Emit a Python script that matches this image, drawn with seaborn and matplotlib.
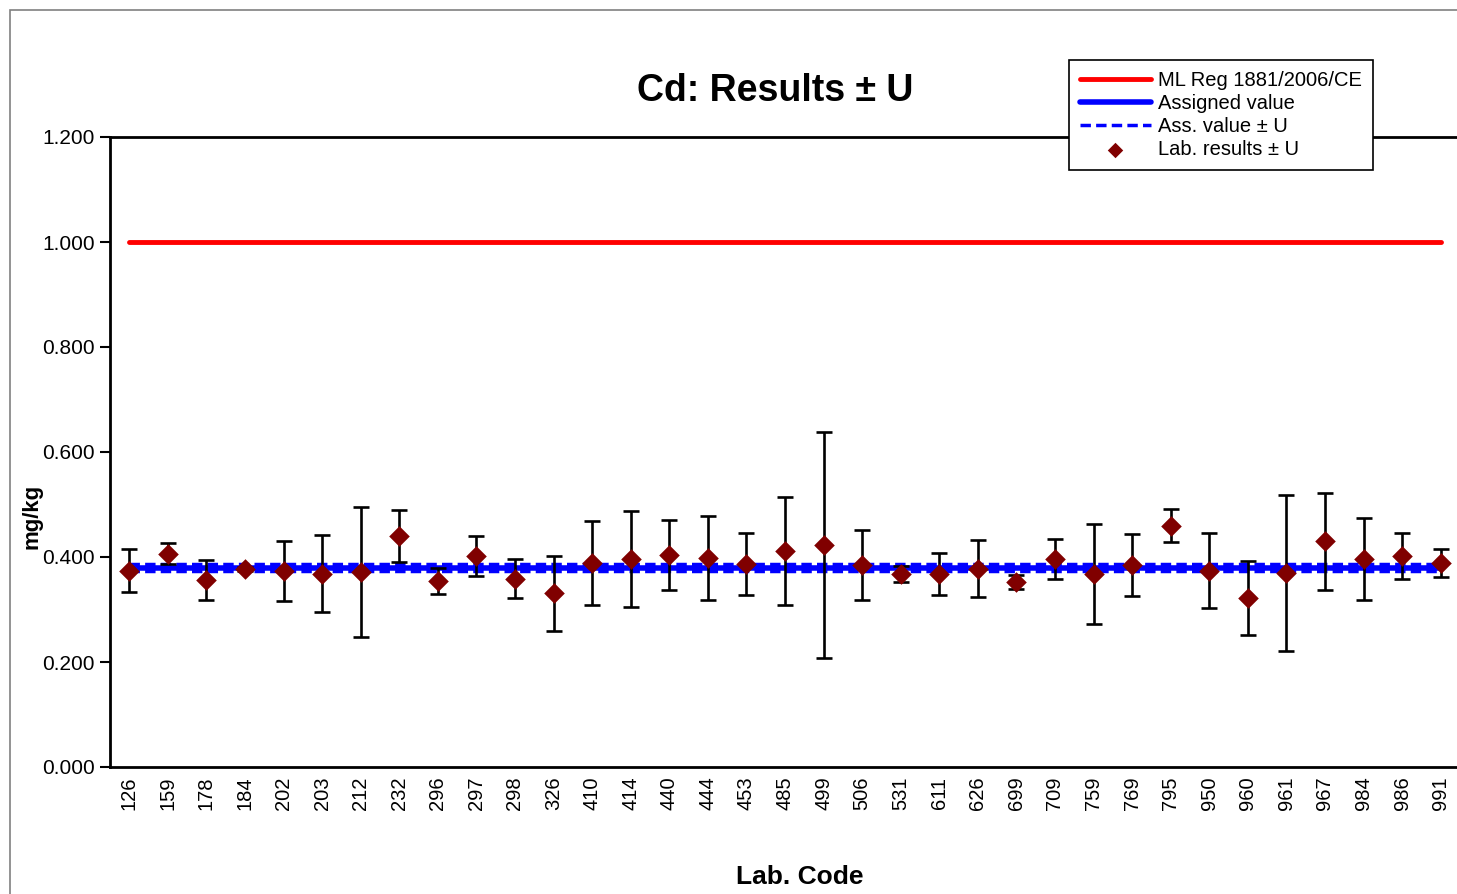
import matplotlib
matplotlib.use("Agg")
import matplotlib.pyplot as plt
import matplotlib.patches as mpatches
import numpy as np
import pandas as pd
import seaborn as sns

# lab codes and results
lab_codes = ["126", "159", "178", "184", "202", "203", "212", "232", "296", "297",
             "298", "326", "410", "414", "440", "444", "453", "485", "499", "506",
             "531", "611", "626", "699", "709", "759", "769", "795", "950", "960",
             "961", "967", "984", "986", "991"]
results = [0.374, 0.406, 0.356, 0.377, 0.374, 0.368, 0.372, 0.440, 0.354, 0.402,
           0.359, 0.331, 0.388, 0.396, 0.404, 0.399, 0.386, 0.411, 0.423, 0.385,
           0.368, 0.367, 0.378, 0.352, 0.396, 0.367, 0.385, 0.460, 0.374, 0.322,
           0.370, 0.430, 0.396, 0.402, 0.389]
uncert = [0.041, 0.020, 0.038, 0.004, 0.057, 0.073, 0.124, 0.050, 0.025, 0.038,
          0.037, 0.071, 0.080, 0.092, 0.066, 0.080, 0.059, 0.103, 0.215, 0.067,
          0.015, 0.040, 0.054, 0.013, 0.038, 0.095, 0.059, 0.032, 0.072, 0.071,
          0.149, 0.092, 0.078, 0.043, 0.027]
assigned = 0.380
assigned_u = 0.006
max_level = 1.000

df = pd.DataFrame({"lab": lab_codes, "result": results, "U": uncert})
df["pos"] = np.arange(len(df))

sns.set_style("white")
plt.rcParams["font.family"] = ["Liberation Sans", "DejaVu Sans"]
plt.rcParams["text.color"] = "black"
plt.rcParams["xtick.color"] = "black"
plt.rcParams["ytick.color"] = "black"
plt.rcParams["axes.labelcolor"] = "black"

fig = plt.figure(figsize=(14.57, 8.94), dpi=100)
ax = fig.add_axes([110 / 1457, 1 - 767 / 894, 1350 / 1457, 630 / 894])

first, last = df["pos"].iloc[0], df["pos"].iloc[-1]

# reference lines
ax.plot([first, last], [max_level, max_level], color="#ff0000", lw=3.5,
        label="ML Reg 1881/2006/CE", zorder=2)
ax.plot([first, last], [assigned, assigned], color="#0000ff", lw=4,
        label="Assigned value", zorder=2)
ax.plot([first, last], [assigned + assigned_u] * 2, color="#0000ff", lw=2.5,
        ls=(0, (3, 1.5)), label="Ass. value ± U", zorder=2)
ax.plot([first, last], [assigned - assigned_u] * 2, color="#0000ff", lw=2.5,
        ls=(0, (3, 1.5)), zorder=2)

# lab results with uncertainty
ax.errorbar(df["pos"], df["result"], yerr=df["U"], fmt="none", ecolor="black",
            elinewidth=1.9, capsize=6, capthick=1.9, zorder=3)
sns.scatterplot(data=df, x="pos", y="result", marker="D", s=110, color="#800000",
                edgecolor="#800000", linewidth=0, label="Lab. results ± U",
                ax=ax, zorder=4)

ax.set_xlim(-0.5, len(df) - 0.5)
ax.set_ylim(0, 1.2)
ax.set_yticks(np.arange(0, 1.21, 0.2))
ax.set_yticklabels([f"{v:.3f}" for v in np.arange(0, 1.21, 0.2)], fontsize=15)
ax.set_xticks(df["pos"])
ax.set_xticklabels(df["lab"], rotation=90, fontsize=14.5)
ax.set_xticks(np.arange(-0.5, len(df), 1), minor=True)
ax.tick_params(axis="x", which="major", length=0, pad=7)
ax.tick_params(axis="x", which="minor", length=7, width=1.5, color="black", direction="out")
ax.tick_params(axis="y", length=7, width=1.5, color="black", direction="out", left=True, pad=4)

for s in ax.spines.values():
    s.set_color("black")
    s.set_linewidth(2)

ax.set_xlabel("")
ax.set_ylabel("")
fig.text(32 / 1457, 1 - 516 / 894, "mg/kg", fontsize=16, fontweight="bold",
         rotation=90, ha="center", va="center")
fig.text(800 / 1457, 1 - 877 / 894, "Lab. Code", fontsize=19,
         fontweight="bold", ha="center", va="center")
fig.text(775 / 1457, 1 - 91 / 894, "Cd: Results ± U", fontsize=27,
         fontweight="bold", ha="center", va="center")

leg = ax.legend(loc="upper left", bbox_to_anchor=(1069 / 1457, 1 - 60 / 894),
                bbox_transform=fig.transFigure, fontsize=14.5, frameon=True,
                fancybox=False, edgecolor="black", framealpha=1, markerscale=0.75,
                handlelength=3.5, handletextpad=0.35, borderpad=0.55, labelspacing=0.2,
                borderaxespad=0)
leg.get_frame().set_linewidth(1.2)

# outer chart-area border
fig.patches.append(mpatches.Rectangle((10 / 1457, -0.1), 1.2, (894 - 10) / 894 + 0.1,
                                      transform=fig.transFigure, fill=False,
                                      edgecolor="#808080", lw=1.2))

fig.savefig("out.png", dpi=100, facecolor="white")
